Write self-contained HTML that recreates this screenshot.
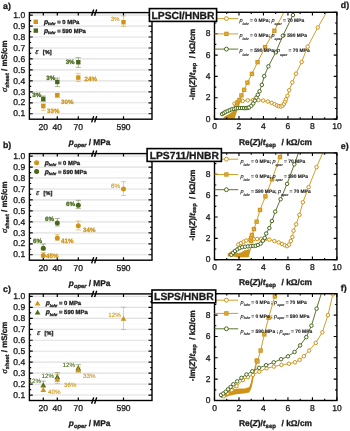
<!DOCTYPE html><html><head><meta charset="utf-8"><style>html,body{margin:0;padding:0;background:#fff;}svg{display:block;will-change:transform;}</style></head><body><svg width="350" height="431" viewBox="0 0 350 431" text-rendering="geometricPrecision" font-family='"Liberation Sans", sans-serif'>
<rect width="350" height="431" fill="#fff"/>
<line x1="33" x2="148" y1="20.58" y2="20.58" stroke="#efefef" stroke-width="0.7" stroke-dasharray="0.8 1.2"/>
<line x1="33" x2="148" y1="31.54" y2="31.54" stroke="#efefef" stroke-width="0.7" stroke-dasharray="0.8 1.2"/>
<line x1="33" x2="148" y1="42.50" y2="42.50" stroke="#efefef" stroke-width="0.7" stroke-dasharray="0.8 1.2"/>
<line x1="33" x2="148" y1="53.46" y2="53.46" stroke="#efefef" stroke-width="0.7" stroke-dasharray="0.8 1.2"/>
<line x1="33" x2="148" y1="64.42" y2="64.42" stroke="#efefef" stroke-width="0.7" stroke-dasharray="0.8 1.2"/>
<line x1="33" x2="148" y1="75.38" y2="75.38" stroke="#efefef" stroke-width="0.7" stroke-dasharray="0.8 1.2"/>
<line x1="33" x2="148" y1="86.34" y2="86.34" stroke="#efefef" stroke-width="0.7" stroke-dasharray="0.8 1.2"/>
<line x1="33" x2="148" y1="97.30" y2="97.30" stroke="#efefef" stroke-width="0.7" stroke-dasharray="0.8 1.2"/>
<line x1="33" x2="148" y1="108.26" y2="108.26" stroke="#efefef" stroke-width="0.7" stroke-dasharray="0.8 1.2"/>
<line x1="33" x2="147.5" y1="15.10" y2="15.10" stroke="#e0e0e0" stroke-width="1.15"/>
<line x1="33" x2="147.5" y1="26.06" y2="26.06" stroke="#e0e0e0" stroke-width="1.15"/>
<line x1="33" x2="147.5" y1="37.02" y2="37.02" stroke="#e0e0e0" stroke-width="1.15"/>
<line x1="33" x2="147.5" y1="47.98" y2="47.98" stroke="#e0e0e0" stroke-width="1.15"/>
<line x1="33" x2="147.5" y1="58.94" y2="58.94" stroke="#e0e0e0" stroke-width="1.15"/>
<line x1="33" x2="147.5" y1="69.90" y2="69.90" stroke="#e0e0e0" stroke-width="1.15"/>
<line x1="33" x2="147.5" y1="80.86" y2="80.86" stroke="#e0e0e0" stroke-width="1.15"/>
<line x1="33" x2="147.5" y1="91.82" y2="91.82" stroke="#e0e0e0" stroke-width="1.15"/>
<line x1="33" x2="147.5" y1="102.78" y2="102.78" stroke="#e0e0e0" stroke-width="1.15"/>
<line x1="33" x2="147.5" y1="113.74" y2="113.74" stroke="#e0e0e0" stroke-width="1.15"/>
<path d="M29.4,15.10 h3.4 M152.0,15.10 h-3.6 M29.4,20.58 h1.8 M152.0,20.58 h-1.8 M29.4,26.06 h3.4 M152.0,26.06 h-3.6 M29.4,31.54 h1.8 M152.0,31.54 h-1.8 M29.4,37.02 h3.4 M152.0,37.02 h-3.6 M29.4,42.50 h1.8 M152.0,42.50 h-1.8 M29.4,47.98 h3.4 M152.0,47.98 h-3.6 M29.4,53.46 h1.8 M152.0,53.46 h-1.8 M29.4,58.94 h3.4 M152.0,58.94 h-3.6 M29.4,64.42 h1.8 M152.0,64.42 h-1.8 M29.4,69.90 h3.4 M152.0,69.90 h-3.6 M29.4,75.38 h1.8 M152.0,75.38 h-1.8 M29.4,80.86 h3.4 M152.0,80.86 h-3.6 M29.4,86.34 h1.8 M152.0,86.34 h-1.8 M29.4,91.82 h3.4 M152.0,91.82 h-3.6 M29.4,97.30 h1.8 M152.0,97.30 h-1.8 M29.4,102.78 h3.4 M152.0,102.78 h-3.6 M29.4,108.26 h1.8 M152.0,108.26 h-1.8 M29.4,113.74 h3.4 M152.0,113.74 h-3.6 M43.3,119.2 v-3 M43.3,12.6 v3 M57.3,119.2 v-3 M57.3,12.6 v3 M78.3,119.2 v-3 M78.3,12.6 v3 M123.5,119.2 v-3 M123.5,12.6 v3" stroke="#000" stroke-width="1.2" fill="none"/>
<rect x="29.4" y="12.6" width="122.6" height="106.60000000000001" fill="none" stroke="#000" stroke-width="1.4"/>
<path d="M91.6,15.80 L93.7,9.50 M94.6,15.80 L96.7,9.50" stroke="#000" stroke-width="1.4"/>
<path d="M91.6,122.40 L93.7,116.10 M94.6,122.40 L96.7,116.10" stroke="#000" stroke-width="1.4"/>
<text x="25.2" y="17.80" text-anchor="end" font-size="8.5" fill="#1a1a1a" stroke="#1a1a1a" stroke-width="0.3">1.0</text>
<text x="25.2" y="28.76" text-anchor="end" font-size="8.5" fill="#1a1a1a" stroke="#1a1a1a" stroke-width="0.3">0.9</text>
<text x="25.2" y="39.72" text-anchor="end" font-size="8.5" fill="#1a1a1a" stroke="#1a1a1a" stroke-width="0.3">0.8</text>
<text x="25.2" y="50.68" text-anchor="end" font-size="8.5" fill="#1a1a1a" stroke="#1a1a1a" stroke-width="0.3">0.7</text>
<text x="25.2" y="61.64" text-anchor="end" font-size="8.5" fill="#1a1a1a" stroke="#1a1a1a" stroke-width="0.3">0.6</text>
<text x="25.2" y="72.60" text-anchor="end" font-size="8.5" fill="#1a1a1a" stroke="#1a1a1a" stroke-width="0.3">0.5</text>
<text x="25.2" y="83.56" text-anchor="end" font-size="8.5" fill="#1a1a1a" stroke="#1a1a1a" stroke-width="0.3">0.4</text>
<text x="25.2" y="94.52" text-anchor="end" font-size="8.5" fill="#1a1a1a" stroke="#1a1a1a" stroke-width="0.3">0.3</text>
<text x="25.2" y="105.48" text-anchor="end" font-size="8.5" fill="#1a1a1a" stroke="#1a1a1a" stroke-width="0.3">0.2</text>
<text x="25.2" y="116.44" text-anchor="end" font-size="8.5" fill="#1a1a1a" stroke="#1a1a1a" stroke-width="0.3">0.1</text>
<text x="43.3" y="129.60" text-anchor="middle" font-size="8.5" fill="#1a1a1a" stroke="#1a1a1a" stroke-width="0.3">20</text>
<text x="57.3" y="129.60" text-anchor="middle" font-size="8.5" fill="#1a1a1a" stroke="#1a1a1a" stroke-width="0.3">40</text>
<text x="78.3" y="129.60" text-anchor="middle" font-size="8.5" fill="#1a1a1a" stroke="#1a1a1a" stroke-width="0.3">70</text>
<text x="123.5" y="129.60" text-anchor="middle" font-size="8.5" fill="#1a1a1a" stroke="#1a1a1a" stroke-width="0.3">590</text>
<text x="68.8" y="144.60" font-size="8.3" font-weight="bold" fill="#1a1a1a" stroke="#1a1a1a" stroke-width="0.3"><tspan font-style="italic">p</tspan><tspan font-size="5.8" dy="2.2" font-style="italic">oper</tspan><tspan dy="-2.2"> / MPa</tspan></text>
<text transform="translate(7.2,66.20) rotate(-90)" text-anchor="middle" font-size="8" font-weight="bold" fill="#1a1a1a" stroke="#1a1a1a" stroke-width="0.3"><tspan font-style="italic" font-weight="normal" font-family="Liberation Serif" font-size="8.6">σ</tspan><tspan font-size="5.6" dy="1.9">sheet</tspan><tspan dy="-1.9"> / mS/cm</tspan></text>
<text x="3" y="8.70" font-size="8.8" font-weight="bold" fill="#1a1a1a" stroke="#1a1a1a" stroke-width="0.3">a)</text>
<rect x="33.60" y="19.60" width="4.4" height="4.4" fill="#CD9418"/>
<rect x="33.60" y="28.40" width="4.4" height="4.4" fill="#48671C"/>
<text x="43.90" y="23.90" font-size="5.9" font-weight="bold" fill="#1a1a1a" stroke="#1a1a1a" stroke-width="0.3"><tspan font-style="italic" font-size="6.8">p</tspan><tspan font-size="4" font-style="italic" dy="1.5">lohr</tspan><tspan dy="-1.5"> = 0 MPa</tspan></text>
<text x="43.90" y="32.70" font-size="5.9" font-weight="bold" fill="#1a1a1a" stroke="#1a1a1a" stroke-width="0.3"><tspan font-style="italic" font-size="6.8">p</tspan><tspan font-size="4" font-style="italic" dy="1.5">lohr</tspan><tspan dy="-1.5"> = 590 MPa</tspan></text>
<text x="35.20" y="54.00" font-size="8.4" font-style="italic" font-family="Liberation Serif" fill="#1a1a1a" stroke="#1a1a1a" stroke-width="0.2">ε</text>
<text x="42.80" y="53.90" font-size="5.6" font-weight="bold" fill="#1a1a1a" stroke="#1a1a1a" stroke-width="0.3">[%]</text>
<path d="M123.50,16.00 V26.40 M120.90,16.00 H126.10 M120.90,26.40 H126.10" stroke="#CD9418" stroke-width="0.75" fill="none" opacity="0.6"/>
<rect x="121.30" y="20.02" width="4.4" height="4.4" fill="#CD9418"/>
<text x="119.6" y="20.80" font-size="6.2" font-weight="normal" fill="#CD9418" stroke="#CD9418" stroke-width="0.12" text-anchor="end">3%</text>
<path d="M78.30,57.60 V67.40 M75.70,57.60 H80.90 M75.70,67.40 H80.90" stroke="#48671C" stroke-width="0.75" fill="none" opacity="0.6"/>
<rect x="76.10" y="60.03" width="4.4" height="4.4" fill="#48671C"/>
<text x="74.6" y="64.20" font-size="6.2" font-weight="bold" fill="#48671C" stroke="#48671C" stroke-width="0.3" text-anchor="end">3%</text>
<path d="M57.30,78.00 V86.60 M54.70,78.00 H59.90 M54.70,86.60 H59.90" stroke="#48671C" stroke-width="0.75" fill="none" opacity="0.6"/>
<rect x="55.10" y="79.76" width="4.4" height="4.4" fill="#48671C"/>
<text x="55.2" y="80.20" font-size="6.2" font-weight="bold" fill="#48671C" stroke="#48671C" stroke-width="0.3" text-anchor="end">3%</text>
<path d="M43.30,96.00 V101.40 M40.70,96.00 H45.90 M40.70,101.40 H45.90" stroke="#48671C" stroke-width="0.75" fill="none" opacity="0.6"/>
<rect x="41.10" y="96.74" width="4.4" height="4.4" fill="#48671C"/>
<text x="41.2" y="96.80" font-size="6.2" font-weight="bold" fill="#48671C" stroke="#48671C" stroke-width="0.3" text-anchor="end">3%</text>
<path d="M78.30,73.40 V81.60 M75.70,73.40 H80.90 M75.70,81.60 H80.90" stroke="#CD9418" stroke-width="0.75" fill="none" opacity="0.6"/>
<rect x="76.10" y="75.37" width="4.4" height="4.4" fill="#CD9418"/>
<text x="84.6" y="80.80" font-size="6.2" font-weight="bold" fill="#CD9418" stroke="#CD9418" stroke-width="0.3" text-anchor="start">24%</text>
<path d="M57.30,94.60 V97.60 M54.70,94.60 H59.90 M54.70,97.60 H59.90" stroke="#CD9418" stroke-width="0.75" fill="none" opacity="0.6"/>
<rect x="55.10" y="92.91" width="4.4" height="4.4" fill="#CD9418"/>
<text x="61.0" y="103.60" font-size="6.2" font-weight="bold" fill="#CD9418" stroke="#CD9418" stroke-width="0.3" text-anchor="start">30%</text>
<path d="M43.30,104.00 V110.30 M40.70,104.00 H45.90 M40.70,110.30 H45.90" stroke="#CD9418" stroke-width="0.75" fill="none" opacity="0.6"/>
<rect x="41.10" y="103.87" width="4.4" height="4.4" fill="#CD9418"/>
<text x="47.0" y="113.20" font-size="6.2" font-weight="bold" fill="#CD9418" stroke="#CD9418" stroke-width="0.3" text-anchor="start">33%</text>
<line x1="33" x2="148" y1="161.58" y2="161.58" stroke="#efefef" stroke-width="0.7" stroke-dasharray="0.8 1.2"/>
<line x1="33" x2="148" y1="172.54" y2="172.54" stroke="#efefef" stroke-width="0.7" stroke-dasharray="0.8 1.2"/>
<line x1="33" x2="148" y1="183.50" y2="183.50" stroke="#efefef" stroke-width="0.7" stroke-dasharray="0.8 1.2"/>
<line x1="33" x2="148" y1="194.46" y2="194.46" stroke="#efefef" stroke-width="0.7" stroke-dasharray="0.8 1.2"/>
<line x1="33" x2="148" y1="205.42" y2="205.42" stroke="#efefef" stroke-width="0.7" stroke-dasharray="0.8 1.2"/>
<line x1="33" x2="148" y1="216.38" y2="216.38" stroke="#efefef" stroke-width="0.7" stroke-dasharray="0.8 1.2"/>
<line x1="33" x2="148" y1="227.34" y2="227.34" stroke="#efefef" stroke-width="0.7" stroke-dasharray="0.8 1.2"/>
<line x1="33" x2="148" y1="238.30" y2="238.30" stroke="#efefef" stroke-width="0.7" stroke-dasharray="0.8 1.2"/>
<line x1="33" x2="148" y1="249.26" y2="249.26" stroke="#efefef" stroke-width="0.7" stroke-dasharray="0.8 1.2"/>
<line x1="33" x2="147.5" y1="156.10" y2="156.10" stroke="#e0e0e0" stroke-width="1.15"/>
<line x1="33" x2="147.5" y1="167.06" y2="167.06" stroke="#e0e0e0" stroke-width="1.15"/>
<line x1="33" x2="147.5" y1="178.02" y2="178.02" stroke="#e0e0e0" stroke-width="1.15"/>
<line x1="33" x2="147.5" y1="188.98" y2="188.98" stroke="#e0e0e0" stroke-width="1.15"/>
<line x1="33" x2="147.5" y1="199.94" y2="199.94" stroke="#e0e0e0" stroke-width="1.15"/>
<line x1="33" x2="147.5" y1="210.90" y2="210.90" stroke="#e0e0e0" stroke-width="1.15"/>
<line x1="33" x2="147.5" y1="221.86" y2="221.86" stroke="#e0e0e0" stroke-width="1.15"/>
<line x1="33" x2="147.5" y1="232.82" y2="232.82" stroke="#e0e0e0" stroke-width="1.15"/>
<line x1="33" x2="147.5" y1="243.78" y2="243.78" stroke="#e0e0e0" stroke-width="1.15"/>
<line x1="33" x2="147.5" y1="254.74" y2="254.74" stroke="#e0e0e0" stroke-width="1.15"/>
<path d="M29.4,156.10 h3.4 M152.0,156.10 h-3.6 M29.4,161.58 h1.8 M152.0,161.58 h-1.8 M29.4,167.06 h3.4 M152.0,167.06 h-3.6 M29.4,172.54 h1.8 M152.0,172.54 h-1.8 M29.4,178.02 h3.4 M152.0,178.02 h-3.6 M29.4,183.50 h1.8 M152.0,183.50 h-1.8 M29.4,188.98 h3.4 M152.0,188.98 h-3.6 M29.4,194.46 h1.8 M152.0,194.46 h-1.8 M29.4,199.94 h3.4 M152.0,199.94 h-3.6 M29.4,205.42 h1.8 M152.0,205.42 h-1.8 M29.4,210.90 h3.4 M152.0,210.90 h-3.6 M29.4,216.38 h1.8 M152.0,216.38 h-1.8 M29.4,221.86 h3.4 M152.0,221.86 h-3.6 M29.4,227.34 h1.8 M152.0,227.34 h-1.8 M29.4,232.82 h3.4 M152.0,232.82 h-3.6 M29.4,238.30 h1.8 M152.0,238.30 h-1.8 M29.4,243.78 h3.4 M152.0,243.78 h-3.6 M29.4,249.26 h1.8 M152.0,249.26 h-1.8 M29.4,254.74 h3.4 M152.0,254.74 h-3.6 M43.3,260.2 v-3 M43.3,153.6 v3 M57.3,260.2 v-3 M57.3,153.6 v3 M78.3,260.2 v-3 M78.3,153.6 v3 M123.5,260.2 v-3 M123.5,153.6 v3" stroke="#000" stroke-width="1.2" fill="none"/>
<rect x="29.4" y="153.6" width="122.6" height="106.6" fill="none" stroke="#000" stroke-width="1.4"/>
<path d="M91.6,156.80 L93.7,150.50 M94.6,156.80 L96.7,150.50" stroke="#000" stroke-width="1.4"/>
<path d="M91.6,263.40 L93.7,257.10 M94.6,263.40 L96.7,257.10" stroke="#000" stroke-width="1.4"/>
<text x="25.2" y="158.80" text-anchor="end" font-size="8.5" fill="#1a1a1a" stroke="#1a1a1a" stroke-width="0.3">1.0</text>
<text x="25.2" y="169.76" text-anchor="end" font-size="8.5" fill="#1a1a1a" stroke="#1a1a1a" stroke-width="0.3">0.9</text>
<text x="25.2" y="180.72" text-anchor="end" font-size="8.5" fill="#1a1a1a" stroke="#1a1a1a" stroke-width="0.3">0.8</text>
<text x="25.2" y="191.68" text-anchor="end" font-size="8.5" fill="#1a1a1a" stroke="#1a1a1a" stroke-width="0.3">0.7</text>
<text x="25.2" y="202.64" text-anchor="end" font-size="8.5" fill="#1a1a1a" stroke="#1a1a1a" stroke-width="0.3">0.6</text>
<text x="25.2" y="213.60" text-anchor="end" font-size="8.5" fill="#1a1a1a" stroke="#1a1a1a" stroke-width="0.3">0.5</text>
<text x="25.2" y="224.56" text-anchor="end" font-size="8.5" fill="#1a1a1a" stroke="#1a1a1a" stroke-width="0.3">0.4</text>
<text x="25.2" y="235.52" text-anchor="end" font-size="8.5" fill="#1a1a1a" stroke="#1a1a1a" stroke-width="0.3">0.3</text>
<text x="25.2" y="246.48" text-anchor="end" font-size="8.5" fill="#1a1a1a" stroke="#1a1a1a" stroke-width="0.3">0.2</text>
<text x="25.2" y="257.44" text-anchor="end" font-size="8.5" fill="#1a1a1a" stroke="#1a1a1a" stroke-width="0.3">0.1</text>
<text x="43.3" y="270.60" text-anchor="middle" font-size="8.5" fill="#1a1a1a" stroke="#1a1a1a" stroke-width="0.3">20</text>
<text x="57.3" y="270.60" text-anchor="middle" font-size="8.5" fill="#1a1a1a" stroke="#1a1a1a" stroke-width="0.3">40</text>
<text x="78.3" y="270.60" text-anchor="middle" font-size="8.5" fill="#1a1a1a" stroke="#1a1a1a" stroke-width="0.3">70</text>
<text x="123.5" y="270.60" text-anchor="middle" font-size="8.5" fill="#1a1a1a" stroke="#1a1a1a" stroke-width="0.3">590</text>
<text x="68.8" y="285.60" font-size="8.3" font-weight="bold" fill="#1a1a1a" stroke="#1a1a1a" stroke-width="0.3"><tspan font-style="italic">p</tspan><tspan font-size="5.8" dy="2.2" font-style="italic">oper</tspan><tspan dy="-2.2"> / MPa</tspan></text>
<text transform="translate(7.2,207.20) rotate(-90)" text-anchor="middle" font-size="8" font-weight="bold" fill="#1a1a1a" stroke="#1a1a1a" stroke-width="0.3"><tspan font-style="italic" font-weight="normal" font-family="Liberation Serif" font-size="8.6">σ</tspan><tspan font-size="5.6" dy="1.9">sheet</tspan><tspan dy="-1.9"> / mS/cm</tspan></text>
<text x="3" y="148.30" font-size="8.8" font-weight="bold" fill="#1a1a1a" stroke="#1a1a1a" stroke-width="0.3">b)</text>
<circle cx="36.60" cy="162.80" r="2.5" fill="#CD9418"/>
<circle cx="36.60" cy="171.60" r="2.5" fill="#48671C"/>
<text x="44.70" y="164.90" font-size="5.9" font-weight="bold" fill="#1a1a1a" stroke="#1a1a1a" stroke-width="0.3"><tspan font-style="italic" font-size="6.8">p</tspan><tspan font-size="4" font-style="italic" dy="1.5">lohr</tspan><tspan dy="-1.5"> = 0 MPa</tspan></text>
<text x="44.70" y="173.70" font-size="5.9" font-weight="bold" fill="#1a1a1a" stroke="#1a1a1a" stroke-width="0.3"><tspan font-style="italic" font-size="6.8">p</tspan><tspan font-size="4" font-style="italic" dy="1.5">lohr</tspan><tspan dy="-1.5"> = 590 MPa</tspan></text>
<text x="36.00" y="195.00" font-size="8.4" font-style="italic" font-family="Liberation Serif" fill="#1a1a1a" stroke="#1a1a1a" stroke-width="0.2">ε</text>
<text x="43.60" y="194.90" font-size="5.6" font-weight="bold" fill="#1a1a1a" stroke="#1a1a1a" stroke-width="0.3">[%]</text>
<path d="M123.50,181.60 V195.50 M120.90,181.60 H126.10 M120.90,195.50 H126.10" stroke="#CD9418" stroke-width="0.75" fill="none" opacity="0.6"/>
<circle cx="123.50" cy="188.98" r="2.5" fill="#CD9418"/>
<text x="119.9" y="188.10" font-size="6.2" font-weight="normal" fill="#CD9418" stroke="#CD9418" stroke-width="0.12" text-anchor="end">6%</text>
<path d="M78.30,200.40 V208.40 M75.70,200.40 H80.90 M75.70,208.40 H80.90" stroke="#48671C" stroke-width="0.75" fill="none" opacity="0.6"/>
<circle cx="78.30" cy="205.20" r="2.5" fill="#48671C"/>
<text x="75.0" y="205.80" font-size="6.2" font-weight="bold" fill="#48671C" stroke="#48671C" stroke-width="0.3" text-anchor="end">6%</text>
<path d="M57.30,218.50 V226.00 M54.70,218.50 H59.90 M54.70,226.00 H59.90" stroke="#48671C" stroke-width="0.75" fill="none" opacity="0.6"/>
<circle cx="57.30" cy="222.96" r="2.5" fill="#48671C"/>
<text x="54.0" y="220.60" font-size="6.2" font-weight="bold" fill="#48671C" stroke="#48671C" stroke-width="0.3" text-anchor="end">6%</text>
<path d="M43.30,244.00 V250.00 M40.70,244.00 H45.90 M40.70,250.00 H45.90" stroke="#48671C" stroke-width="0.75" fill="none" opacity="0.6"/>
<circle cx="43.30" cy="248.16" r="2.5" fill="#48671C"/>
<text x="42.0" y="242.60" font-size="6.2" font-weight="bold" fill="#48671C" stroke="#48671C" stroke-width="0.3" text-anchor="end">6%</text>
<path d="M78.30,221.00 V230.00 M75.70,221.00 H80.90 M75.70,230.00 H80.90" stroke="#CD9418" stroke-width="0.75" fill="none" opacity="0.6"/>
<circle cx="78.30" cy="225.70" r="2.5" fill="#CD9418"/>
<text x="83.0" y="232.20" font-size="6.2" font-weight="bold" fill="#CD9418" stroke="#CD9418" stroke-width="0.3" text-anchor="start">34%</text>
<path d="M57.30,234.40 V240.40 M54.70,234.40 H59.90 M54.70,240.40 H59.90" stroke="#CD9418" stroke-width="0.75" fill="none" opacity="0.6"/>
<circle cx="57.30" cy="237.97" r="2.5" fill="#CD9418"/>
<text x="61.0" y="242.60" font-size="6.2" font-weight="bold" fill="#CD9418" stroke="#CD9418" stroke-width="0.3" text-anchor="start">41%</text>
<path d="M43.30,252.50 V257.00 M40.70,252.50 H45.90 M40.70,257.00 H45.90" stroke="#CD9418" stroke-width="0.75" fill="none" opacity="0.6"/>
<circle cx="43.30" cy="255.40" r="2.5" fill="#CD9418"/>
<text x="46.0" y="257.80" font-size="6.2" font-weight="bold" fill="#CD9418" stroke="#CD9418" stroke-width="0.3" text-anchor="start">45%</text>
<line x1="33" x2="148" y1="301.88" y2="301.88" stroke="#efefef" stroke-width="0.7" stroke-dasharray="0.8 1.2"/>
<line x1="33" x2="148" y1="312.84" y2="312.84" stroke="#efefef" stroke-width="0.7" stroke-dasharray="0.8 1.2"/>
<line x1="33" x2="148" y1="323.80" y2="323.80" stroke="#efefef" stroke-width="0.7" stroke-dasharray="0.8 1.2"/>
<line x1="33" x2="148" y1="334.76" y2="334.76" stroke="#efefef" stroke-width="0.7" stroke-dasharray="0.8 1.2"/>
<line x1="33" x2="148" y1="345.72" y2="345.72" stroke="#efefef" stroke-width="0.7" stroke-dasharray="0.8 1.2"/>
<line x1="33" x2="148" y1="356.68" y2="356.68" stroke="#efefef" stroke-width="0.7" stroke-dasharray="0.8 1.2"/>
<line x1="33" x2="148" y1="367.64" y2="367.64" stroke="#efefef" stroke-width="0.7" stroke-dasharray="0.8 1.2"/>
<line x1="33" x2="148" y1="378.60" y2="378.60" stroke="#efefef" stroke-width="0.7" stroke-dasharray="0.8 1.2"/>
<line x1="33" x2="148" y1="389.56" y2="389.56" stroke="#efefef" stroke-width="0.7" stroke-dasharray="0.8 1.2"/>
<line x1="33" x2="147.5" y1="296.40" y2="296.40" stroke="#e0e0e0" stroke-width="1.15"/>
<line x1="33" x2="147.5" y1="307.36" y2="307.36" stroke="#e0e0e0" stroke-width="1.15"/>
<line x1="33" x2="147.5" y1="318.32" y2="318.32" stroke="#e0e0e0" stroke-width="1.15"/>
<line x1="33" x2="147.5" y1="329.28" y2="329.28" stroke="#e0e0e0" stroke-width="1.15"/>
<line x1="33" x2="147.5" y1="340.24" y2="340.24" stroke="#e0e0e0" stroke-width="1.15"/>
<line x1="33" x2="147.5" y1="351.20" y2="351.20" stroke="#e0e0e0" stroke-width="1.15"/>
<line x1="33" x2="147.5" y1="362.16" y2="362.16" stroke="#e0e0e0" stroke-width="1.15"/>
<line x1="33" x2="147.5" y1="373.12" y2="373.12" stroke="#e0e0e0" stroke-width="1.15"/>
<line x1="33" x2="147.5" y1="384.08" y2="384.08" stroke="#e0e0e0" stroke-width="1.15"/>
<line x1="33" x2="147.5" y1="395.04" y2="395.04" stroke="#e0e0e0" stroke-width="1.15"/>
<path d="M29.4,296.40 h3.4 M152.0,296.40 h-3.6 M29.4,301.88 h1.8 M152.0,301.88 h-1.8 M29.4,307.36 h3.4 M152.0,307.36 h-3.6 M29.4,312.84 h1.8 M152.0,312.84 h-1.8 M29.4,318.32 h3.4 M152.0,318.32 h-3.6 M29.4,323.80 h1.8 M152.0,323.80 h-1.8 M29.4,329.28 h3.4 M152.0,329.28 h-3.6 M29.4,334.76 h1.8 M152.0,334.76 h-1.8 M29.4,340.24 h3.4 M152.0,340.24 h-3.6 M29.4,345.72 h1.8 M152.0,345.72 h-1.8 M29.4,351.20 h3.4 M152.0,351.20 h-3.6 M29.4,356.68 h1.8 M152.0,356.68 h-1.8 M29.4,362.16 h3.4 M152.0,362.16 h-3.6 M29.4,367.64 h1.8 M152.0,367.64 h-1.8 M29.4,373.12 h3.4 M152.0,373.12 h-3.6 M29.4,378.60 h1.8 M152.0,378.60 h-1.8 M29.4,384.08 h3.4 M152.0,384.08 h-3.6 M29.4,389.56 h1.8 M152.0,389.56 h-1.8 M29.4,395.04 h3.4 M152.0,395.04 h-3.6 M43.3,400.5 v-3 M43.3,293.90000000000003 v3 M57.3,400.5 v-3 M57.3,293.90000000000003 v3 M78.3,400.5 v-3 M78.3,293.90000000000003 v3 M123.5,400.5 v-3 M123.5,293.90000000000003 v3" stroke="#000" stroke-width="1.2" fill="none"/>
<rect x="29.4" y="293.90000000000003" width="122.6" height="106.59999999999997" fill="none" stroke="#000" stroke-width="1.4"/>
<path d="M91.6,297.10 L93.7,290.80 M94.6,297.10 L96.7,290.80" stroke="#000" stroke-width="1.4"/>
<path d="M91.6,403.70 L93.7,397.40 M94.6,403.70 L96.7,397.40" stroke="#000" stroke-width="1.4"/>
<text x="25.2" y="299.10" text-anchor="end" font-size="8.5" fill="#1a1a1a" stroke="#1a1a1a" stroke-width="0.3">1.0</text>
<text x="25.2" y="310.06" text-anchor="end" font-size="8.5" fill="#1a1a1a" stroke="#1a1a1a" stroke-width="0.3">0.9</text>
<text x="25.2" y="321.02" text-anchor="end" font-size="8.5" fill="#1a1a1a" stroke="#1a1a1a" stroke-width="0.3">0.8</text>
<text x="25.2" y="331.98" text-anchor="end" font-size="8.5" fill="#1a1a1a" stroke="#1a1a1a" stroke-width="0.3">0.7</text>
<text x="25.2" y="342.94" text-anchor="end" font-size="8.5" fill="#1a1a1a" stroke="#1a1a1a" stroke-width="0.3">0.6</text>
<text x="25.2" y="353.90" text-anchor="end" font-size="8.5" fill="#1a1a1a" stroke="#1a1a1a" stroke-width="0.3">0.5</text>
<text x="25.2" y="364.86" text-anchor="end" font-size="8.5" fill="#1a1a1a" stroke="#1a1a1a" stroke-width="0.3">0.4</text>
<text x="25.2" y="375.82" text-anchor="end" font-size="8.5" fill="#1a1a1a" stroke="#1a1a1a" stroke-width="0.3">0.3</text>
<text x="25.2" y="386.78" text-anchor="end" font-size="8.5" fill="#1a1a1a" stroke="#1a1a1a" stroke-width="0.3">0.2</text>
<text x="25.2" y="397.74" text-anchor="end" font-size="8.5" fill="#1a1a1a" stroke="#1a1a1a" stroke-width="0.3">0.1</text>
<text x="43.3" y="410.90" text-anchor="middle" font-size="8.5" fill="#1a1a1a" stroke="#1a1a1a" stroke-width="0.3">20</text>
<text x="57.3" y="410.90" text-anchor="middle" font-size="8.5" fill="#1a1a1a" stroke="#1a1a1a" stroke-width="0.3">40</text>
<text x="78.3" y="410.90" text-anchor="middle" font-size="8.5" fill="#1a1a1a" stroke="#1a1a1a" stroke-width="0.3">70</text>
<text x="123.5" y="410.90" text-anchor="middle" font-size="8.5" fill="#1a1a1a" stroke="#1a1a1a" stroke-width="0.3">590</text>
<text x="68.8" y="425.90" font-size="8.3" font-weight="bold" fill="#1a1a1a" stroke="#1a1a1a" stroke-width="0.3"><tspan font-style="italic">p</tspan><tspan font-size="5.8" dy="2.2" font-style="italic">oper</tspan><tspan dy="-2.2"> / MPa</tspan></text>
<text transform="translate(7.2,347.50) rotate(-90)" text-anchor="middle" font-size="8" font-weight="bold" fill="#1a1a1a" stroke="#1a1a1a" stroke-width="0.3"><tspan font-style="italic" font-weight="normal" font-family="Liberation Serif" font-size="8.6">σ</tspan><tspan font-size="5.6" dy="1.9">sheet</tspan><tspan dy="-1.9"> / mS/cm</tspan></text>
<text x="3" y="291.80" font-size="8.8" font-weight="bold" fill="#1a1a1a" stroke="#1a1a1a" stroke-width="0.3">c)</text>
<path d="M34.80,305.60 L40.40,305.60 L37.60,300.60 Z" fill="#CD9418"/>
<path d="M34.80,314.40 L40.40,314.40 L37.60,309.40 Z" fill="#48671C"/>
<text x="45.70" y="305.20" font-size="5.9" font-weight="bold" fill="#1a1a1a" stroke="#1a1a1a" stroke-width="0.3"><tspan font-style="italic" font-size="6.8">p</tspan><tspan font-size="4" font-style="italic" dy="1.5">lohr</tspan><tspan dy="-1.5"> = 0 MPa</tspan></text>
<text x="45.70" y="314.00" font-size="5.9" font-weight="bold" fill="#1a1a1a" stroke="#1a1a1a" stroke-width="0.3"><tspan font-style="italic" font-size="6.8">p</tspan><tspan font-size="4" font-style="italic" dy="1.5">lohr</tspan><tspan dy="-1.5"> = 590 MPa</tspan></text>
<text x="37.00" y="335.30" font-size="8.4" font-style="italic" font-family="Liberation Serif" fill="#1a1a1a" stroke="#1a1a1a" stroke-width="0.2">ε</text>
<text x="44.60" y="335.20" font-size="5.6" font-weight="bold" fill="#1a1a1a" stroke="#1a1a1a" stroke-width="0.3">[%]</text>
<path d="M123.50,307.30 V329.60 M120.90,307.30 H126.10 M120.90,329.60 H126.10" stroke="#CD9418" stroke-width="0.75" fill="none" opacity="0.6"/>
<path d="M120.70,320.82 L126.30,320.82 L123.50,315.82 Z" fill="#CD9418"/>
<text x="120.7" y="316.80" font-size="6.2" font-weight="normal" fill="#CD9418" stroke="#CD9418" stroke-width="0.12" text-anchor="end">12%</text>
<path d="M78.30,364.60 V370.60 M75.70,364.60 H80.90 M75.70,370.60 H80.90" stroke="#48671C" stroke-width="0.75" fill="none" opacity="0.6"/>
<path d="M75.50,370.36 L81.10,370.36 L78.30,365.36 Z" fill="#48671C"/>
<text x="75.0" y="367.20" font-size="6.2" font-weight="normal" fill="#48671C" stroke="#48671C" stroke-width="0.12" text-anchor="end">12%</text>
<path d="M57.30,372.60 V379.60 M54.70,372.60 H59.90 M54.70,379.60 H59.90" stroke="#48671C" stroke-width="0.75" fill="none" opacity="0.6"/>
<path d="M54.50,378.91 L60.10,378.91 L57.30,373.91 Z" fill="#48671C"/>
<text x="54.0" y="377.80" font-size="6.2" font-weight="normal" fill="#48671C" stroke="#48671C" stroke-width="0.12" text-anchor="end">12%</text>
<path d="M43.30,381.10 V387.10 M40.70,381.10 H45.90 M40.70,387.10 H45.90" stroke="#48671C" stroke-width="0.75" fill="none" opacity="0.6"/>
<path d="M40.50,387.13 L46.10,387.13 L43.30,382.13 Z" fill="#48671C"/>
<text x="41.0" y="382.80" font-size="6.2" font-weight="normal" fill="#48671C" stroke="#48671C" stroke-width="0.12" text-anchor="end">12%</text>
<path d="M78.30,367.10 V372.10 M75.70,367.10 H80.90 M75.70,372.10 H80.90" stroke="#CD9418" stroke-width="0.75" fill="none" opacity="0.6"/>
<path d="M75.50,372.33 L81.10,372.33 L78.30,367.33 Z" fill="#CD9418"/>
<text x="83.0" y="378.40" font-size="6.2" font-weight="normal" fill="#CD9418" stroke="#CD9418" stroke-width="0.12" text-anchor="start">33%</text>
<path d="M57.30,374.60 V383.60 M54.70,374.60 H59.90 M54.70,383.60 H59.90" stroke="#CD9418" stroke-width="0.75" fill="none" opacity="0.6"/>
<path d="M54.50,381.87 L60.10,381.87 L57.30,376.87 Z" fill="#CD9418"/>
<text x="64.0" y="387.20" font-size="6.2" font-weight="normal" fill="#CD9418" stroke="#CD9418" stroke-width="0.12" text-anchor="start">36%</text>
<path d="M43.30,386.10 V391.60 M40.70,386.10 H45.90 M40.70,391.60 H45.90" stroke="#CD9418" stroke-width="0.75" fill="none" opacity="0.6"/>
<path d="M40.50,392.06 L46.10,392.06 L43.30,387.06 Z" fill="#CD9418"/>
<text x="48.0" y="394.40" font-size="6.2" font-weight="normal" fill="#CD9418" stroke="#CD9418" stroke-width="0.12" text-anchor="start">40%</text>
<clipPath id="clipd"><rect x="214.5" y="12.3" width="122.39999999999998" height="106.8"/></clipPath>
<g clip-path="url(#clipd)">
<path d="M234.57,103.63 L238.37,102.03 L242.65,100.96 L247.79,100.32 L253.18,99.89 L258.44,100.11 L263.09,100.53 L267.87,101.49 L271.66,102.88 L274.60,104.16 L276.92,105.44 L278.88,106.08 L280.84,106.51 L282.55,105.66 L283.90,103.95 L285.12,101.71 L285.98,99.36 L287.45,95.84 L289.16,90.29 L292.35,82.29 L296.02,73.65 L301.65,62.02 L307.65,46.65 L317.81,27.44 L328.33,9.20" stroke="#CD9418" stroke-width="0.9" fill="none"/>
<path d="M223.31,118.67 L223.80,116.97 L229.07,114.09 L233.10,111.20 L237.27,107.36 L237.76,108.96 L234.57,118.67 Z" fill="#CD9418"/>
<path d="M236.29,107.36 L236.90,104.70 L237.51,102.35 L239.35,100.00 L241.43,95.41 L244.12,89.86 L247.43,82.61 L251.95,73.86 L257.58,62.12 L265.05,47.18 L274.35,30.75 L285.49,9.20" stroke="#CD9418" stroke-width="0.9" fill="none"/>
<path d="M222.09,114.09 L223.80,113.02 L225.52,111.95 L227.60,111.10 L229.68,110.14 L231.76,109.28 L233.84,108.75 L235.80,108.32 L237.88,108.11 L239.96,108.00 L242.04,108.00 L244.12,108.11 L246.08,108.11 L247.79,107.90 L249.14,107.47 L251.34,105.76 L253.18,103.52 L254.89,100.64 L256.36,97.65 L257.83,94.77 L259.54,91.25 L261.87,84.85 L264.19,76.21 L268.36,66.39 L275.70,52.31 L282.92,35.66 L292.96,15.07 L294.67,9.20" stroke="#48671C" stroke-width="0.9" fill="none"/>
<circle cx="234.57" cy="103.63" r="1.75" fill="#fff" stroke="#CD9418" stroke-width="1.0"/>
<circle cx="238.37" cy="102.03" r="1.75" fill="#fff" stroke="#CD9418" stroke-width="1.0"/>
<circle cx="242.65" cy="100.96" r="1.75" fill="#fff" stroke="#CD9418" stroke-width="1.0"/>
<circle cx="247.79" cy="100.32" r="1.75" fill="#fff" stroke="#CD9418" stroke-width="1.0"/>
<circle cx="253.18" cy="99.89" r="1.75" fill="#fff" stroke="#CD9418" stroke-width="1.0"/>
<circle cx="258.44" cy="100.11" r="1.75" fill="#fff" stroke="#CD9418" stroke-width="1.0"/>
<circle cx="263.09" cy="100.53" r="1.75" fill="#fff" stroke="#CD9418" stroke-width="1.0"/>
<circle cx="267.87" cy="101.49" r="1.75" fill="#fff" stroke="#CD9418" stroke-width="1.0"/>
<circle cx="271.66" cy="102.88" r="1.75" fill="#fff" stroke="#CD9418" stroke-width="1.0"/>
<circle cx="274.60" cy="104.16" r="1.75" fill="#fff" stroke="#CD9418" stroke-width="1.0"/>
<circle cx="276.92" cy="105.44" r="1.75" fill="#fff" stroke="#CD9418" stroke-width="1.0"/>
<circle cx="278.88" cy="106.08" r="1.75" fill="#fff" stroke="#CD9418" stroke-width="1.0"/>
<circle cx="280.84" cy="106.51" r="1.75" fill="#fff" stroke="#CD9418" stroke-width="1.0"/>
<circle cx="282.55" cy="105.66" r="1.75" fill="#fff" stroke="#CD9418" stroke-width="1.0"/>
<circle cx="283.90" cy="103.95" r="1.75" fill="#fff" stroke="#CD9418" stroke-width="1.0"/>
<circle cx="285.12" cy="101.71" r="1.75" fill="#fff" stroke="#CD9418" stroke-width="1.0"/>
<circle cx="285.98" cy="99.36" r="1.75" fill="#fff" stroke="#CD9418" stroke-width="1.0"/>
<circle cx="287.45" cy="95.84" r="1.75" fill="#fff" stroke="#CD9418" stroke-width="1.0"/>
<circle cx="289.16" cy="90.29" r="1.75" fill="#fff" stroke="#CD9418" stroke-width="1.0"/>
<circle cx="292.35" cy="82.29" r="1.75" fill="#fff" stroke="#CD9418" stroke-width="1.0"/>
<circle cx="296.02" cy="73.65" r="1.75" fill="#fff" stroke="#CD9418" stroke-width="1.0"/>
<circle cx="301.65" cy="62.02" r="1.75" fill="#fff" stroke="#CD9418" stroke-width="1.0"/>
<circle cx="307.65" cy="46.65" r="1.75" fill="#fff" stroke="#CD9418" stroke-width="1.0"/>
<circle cx="317.81" cy="27.44" r="1.75" fill="#fff" stroke="#CD9418" stroke-width="1.0"/>
<rect x="234.09" y="105.16" width="4.4" height="4.4" fill="#CD9418"/><path d="M234.99,106.06 L237.59,108.66 M237.59,106.06 L234.99,108.66" stroke="#eecb85" stroke-width="0.55"/>
<rect x="234.70" y="102.50" width="4.4" height="4.4" fill="#CD9418"/><path d="M235.60,103.40 L238.20,106.00 M238.20,103.40 L235.60,106.00" stroke="#eecb85" stroke-width="0.55"/>
<rect x="235.31" y="100.15" width="4.4" height="4.4" fill="#CD9418"/><path d="M236.21,101.05 L238.81,103.65 M238.81,101.05 L236.21,103.65" stroke="#eecb85" stroke-width="0.55"/>
<rect x="237.15" y="97.80" width="4.4" height="4.4" fill="#CD9418"/><path d="M238.05,98.70 L240.65,101.30 M240.65,98.70 L238.05,101.30" stroke="#eecb85" stroke-width="0.55"/>
<rect x="239.23" y="93.21" width="4.4" height="4.4" fill="#CD9418"/><path d="M240.13,94.11 L242.73,96.71 M242.73,94.11 L240.13,96.71" stroke="#eecb85" stroke-width="0.55"/>
<rect x="241.92" y="87.66" width="4.4" height="4.4" fill="#CD9418"/><path d="M242.82,88.56 L245.42,91.16 M245.42,88.56 L242.82,91.16" stroke="#eecb85" stroke-width="0.55"/>
<rect x="245.23" y="80.41" width="4.4" height="4.4" fill="#CD9418"/><path d="M246.13,81.31 L248.73,83.91 M248.73,81.31 L246.13,83.91" stroke="#eecb85" stroke-width="0.55"/>
<rect x="249.75" y="71.66" width="4.4" height="4.4" fill="#CD9418"/><path d="M250.65,72.56 L253.25,75.16 M253.25,72.56 L250.65,75.16" stroke="#eecb85" stroke-width="0.55"/>
<rect x="255.38" y="59.92" width="4.4" height="4.4" fill="#CD9418"/><path d="M256.28,60.82 L258.88,63.42 M258.88,60.82 L256.28,63.42" stroke="#eecb85" stroke-width="0.55"/>
<rect x="262.85" y="44.98" width="4.4" height="4.4" fill="#CD9418"/><path d="M263.75,45.88 L266.35,48.48 M266.35,45.88 L263.75,48.48" stroke="#eecb85" stroke-width="0.55"/>
<rect x="272.15" y="28.55" width="4.4" height="4.4" fill="#CD9418"/><path d="M273.05,29.45 L275.65,32.05 M275.65,29.45 L273.05,32.05" stroke="#eecb85" stroke-width="0.55"/>
<circle cx="222.09" cy="114.09" r="1.75" fill="#fff" stroke="#48671C" stroke-width="1.0"/>
<circle cx="223.80" cy="113.02" r="1.75" fill="#fff" stroke="#48671C" stroke-width="1.0"/>
<circle cx="225.52" cy="111.95" r="1.75" fill="#fff" stroke="#48671C" stroke-width="1.0"/>
<circle cx="227.60" cy="111.10" r="1.75" fill="#fff" stroke="#48671C" stroke-width="1.0"/>
<circle cx="229.68" cy="110.14" r="1.75" fill="#fff" stroke="#48671C" stroke-width="1.0"/>
<circle cx="231.76" cy="109.28" r="1.75" fill="#fff" stroke="#48671C" stroke-width="1.0"/>
<circle cx="233.84" cy="108.75" r="1.75" fill="#fff" stroke="#48671C" stroke-width="1.0"/>
<circle cx="235.80" cy="108.32" r="1.75" fill="#fff" stroke="#48671C" stroke-width="1.0"/>
<circle cx="237.88" cy="108.11" r="1.75" fill="#fff" stroke="#48671C" stroke-width="1.0"/>
<circle cx="239.96" cy="108.00" r="1.75" fill="#fff" stroke="#48671C" stroke-width="1.0"/>
<circle cx="242.04" cy="108.00" r="1.75" fill="#fff" stroke="#48671C" stroke-width="1.0"/>
<circle cx="244.12" cy="108.11" r="1.75" fill="#fff" stroke="#48671C" stroke-width="1.0"/>
<circle cx="246.08" cy="108.11" r="1.75" fill="#fff" stroke="#48671C" stroke-width="1.0"/>
<circle cx="247.79" cy="107.90" r="1.75" fill="#fff" stroke="#48671C" stroke-width="1.0"/>
<circle cx="249.14" cy="107.47" r="1.75" fill="#fff" stroke="#48671C" stroke-width="1.0"/>
<circle cx="251.34" cy="105.76" r="1.75" fill="#fff" stroke="#48671C" stroke-width="1.0"/>
<circle cx="253.18" cy="103.52" r="1.75" fill="#fff" stroke="#48671C" stroke-width="1.0"/>
<circle cx="254.89" cy="100.64" r="1.75" fill="#fff" stroke="#48671C" stroke-width="1.0"/>
<circle cx="256.36" cy="97.65" r="1.75" fill="#fff" stroke="#48671C" stroke-width="1.0"/>
<circle cx="257.83" cy="94.77" r="1.75" fill="#fff" stroke="#48671C" stroke-width="1.0"/>
<circle cx="259.54" cy="91.25" r="1.75" fill="#fff" stroke="#48671C" stroke-width="1.0"/>
<circle cx="261.87" cy="84.85" r="1.75" fill="#fff" stroke="#48671C" stroke-width="1.0"/>
<circle cx="264.19" cy="76.21" r="1.75" fill="#fff" stroke="#48671C" stroke-width="1.0"/>
<circle cx="268.36" cy="66.39" r="1.75" fill="#fff" stroke="#48671C" stroke-width="1.0"/>
<circle cx="275.70" cy="52.31" r="1.75" fill="#fff" stroke="#48671C" stroke-width="1.0"/>
<circle cx="282.92" cy="35.66" r="1.75" fill="#fff" stroke="#48671C" stroke-width="1.0"/>
<circle cx="292.96" cy="15.07" r="1.75" fill="#fff" stroke="#48671C" stroke-width="1.0"/>
</g>
<path d="M214.50,119.1 v-3.2 M214.50,12.3 v3.2 M214.5,119.10 h3.2 M336.9,119.10 h-3.2 M226.74,119.1 v-1.8 M226.74,12.3 v1.8 M214.5,108.43 h1.8 M336.9,108.43 h-1.8 M238.98,119.1 v-3.2 M238.98,12.3 v3.2 M214.5,97.76 h3.2 M336.9,97.76 h-3.2 M251.22,119.1 v-1.8 M251.22,12.3 v1.8 M214.5,87.09 h1.8 M336.9,87.09 h-1.8 M263.46,119.1 v-3.2 M263.46,12.3 v3.2 M214.5,76.42 h3.2 M336.9,76.42 h-3.2 M275.70,119.1 v-1.8 M275.70,12.3 v1.8 M214.5,65.75 h1.8 M336.9,65.75 h-1.8 M287.94,119.1 v-3.2 M287.94,12.3 v3.2 M214.5,55.08 h3.2 M336.9,55.08 h-3.2 M300.18,119.1 v-1.8 M300.18,12.3 v1.8 M214.5,44.41 h1.8 M336.9,44.41 h-1.8 M312.42,119.1 v-3.2 M312.42,12.3 v3.2 M214.5,33.74 h3.2 M336.9,33.74 h-3.2 M324.66,119.1 v-1.8 M324.66,12.3 v1.8 M214.5,23.07 h1.8 M336.9,23.07 h-1.8 M336.90,119.1 v-3.2 M336.90,12.3 v3.2 M214.5,12.40 h3.2 M336.9,12.40 h-3.2" stroke="#000" stroke-width="1.1" fill="none"/>
<rect x="214.5" y="12.3" width="122.39999999999998" height="106.8" fill="none" stroke="#000" stroke-width="1.4"/>
<text x="214.50" y="129.40" text-anchor="middle" font-size="8.5" fill="#1a1a1a" stroke="#1a1a1a" stroke-width="0.3">0</text>
<text x="238.98" y="129.40" text-anchor="middle" font-size="8.5" fill="#1a1a1a" stroke="#1a1a1a" stroke-width="0.3">2</text>
<text x="263.46" y="129.40" text-anchor="middle" font-size="8.5" fill="#1a1a1a" stroke="#1a1a1a" stroke-width="0.3">4</text>
<text x="287.94" y="129.40" text-anchor="middle" font-size="8.5" fill="#1a1a1a" stroke="#1a1a1a" stroke-width="0.3">6</text>
<text x="312.42" y="129.40" text-anchor="middle" font-size="8.5" fill="#1a1a1a" stroke="#1a1a1a" stroke-width="0.3">8</text>
<text x="336.90" y="129.40" text-anchor="middle" font-size="8.5" fill="#1a1a1a" stroke="#1a1a1a" stroke-width="0.3">10</text>
<text x="210.50" y="121.80" text-anchor="end" font-size="8.5" fill="#1a1a1a" stroke="#1a1a1a" stroke-width="0.3">0</text>
<text x="210.50" y="100.46" text-anchor="end" font-size="8.5" fill="#1a1a1a" stroke="#1a1a1a" stroke-width="0.3">2</text>
<text x="210.50" y="79.12" text-anchor="end" font-size="8.5" fill="#1a1a1a" stroke="#1a1a1a" stroke-width="0.3">4</text>
<text x="210.50" y="57.78" text-anchor="end" font-size="8.5" fill="#1a1a1a" stroke="#1a1a1a" stroke-width="0.3">6</text>
<text x="210.50" y="36.44" text-anchor="end" font-size="8.5" fill="#1a1a1a" stroke="#1a1a1a" stroke-width="0.3">8</text>
<text x="239.0" y="144.60" font-size="8.4" font-weight="bold" fill="#1a1a1a" stroke="#1a1a1a" stroke-width="0.3">Re(<tspan font-style="italic">Z</tspan>)/<tspan font-style="italic">t</tspan><tspan font-size="6" dy="2.2">sep</tspan><tspan dy="-2.2" dx="1" xml:space="preserve">  / kΩ/cm</tspan></text>
<text transform="translate(194.6,64.40) rotate(-90)" text-anchor="middle" font-size="8.1" font-weight="bold" fill="#1a1a1a" stroke="#1a1a1a" stroke-width="0.3">-Im(<tspan font-style="italic">Z</tspan>)/<tspan font-style="italic">t</tspan><tspan font-size="5.6" dy="1.7">sep</tspan><tspan dy="-1.7" xml:space="preserve">  / kΩ/cm</tspan></text>
<text x="340.8" y="8.30" font-size="8.8" font-weight="bold" fill="#1a1a1a" stroke="#1a1a1a" stroke-width="0.3">d)</text>
<line x1="214.5" x2="238.2" y1="18.60" y2="18.60" stroke="#CD9418" stroke-width="0.9"/>
<circle cx="226.40" cy="18.60" r="1.95" fill="#fff" stroke="#CD9418" stroke-width="1.0"/>
<text x="239.4" y="21.90" font-size="4.9" font-weight="bold" fill="#222" stroke="#222" stroke-width="0.12" xml:space="preserve"><tspan font-style="italic" font-weight="normal" font-size="5.6">p</tspan><tspan font-size="3.3" font-style="italic" dy="3.2">lohr</tspan><tspan dy="-3.2"> = 0 MPa; </tspan><tspan font-style="italic" font-weight="normal" font-size="5.6">p</tspan><tspan font-size="3.3" font-style="italic" dy="3.2">oper</tspan><tspan dy="-3.2"> = 70 MPa</tspan></text>
<line x1="214.5" x2="238.2" y1="33.90" y2="33.90" stroke="#CD9418" stroke-width="0.9"/>
<rect x="224.20" y="31.70" width="4.4" height="4.4" fill="#CD9418"/><path d="M225.10,32.60 L227.70,35.20 M227.70,32.60 L225.10,35.20" stroke="#eecb85" stroke-width="0.55"/>
<text x="239.4" y="37.20" font-size="4.9" font-weight="bold" fill="#222" stroke="#222" stroke-width="0.12" xml:space="preserve"><tspan font-style="italic" font-weight="normal" font-size="5.6">p</tspan><tspan font-size="3.3" font-style="italic" dy="3.2">lohr</tspan><tspan dy="-3.2"> = 0 MPa; </tspan><tspan font-style="italic" font-weight="normal" font-size="5.6">p</tspan><tspan font-size="3.3" font-style="italic" dy="3.2">oper</tspan><tspan dy="-3.2"> = 590 MPa</tspan></text>
<line x1="214.5" x2="238.2" y1="49.10" y2="49.10" stroke="#48671C" stroke-width="0.9"/>
<circle cx="226.40" cy="49.10" r="1.95" fill="#fff" stroke="#48671C" stroke-width="1.0"/>
<text x="239.4" y="52.40" font-size="4.9" font-weight="bold" fill="#222" stroke="#222" stroke-width="0.12" xml:space="preserve"><tspan font-style="italic" font-weight="normal" font-size="5.6">p</tspan><tspan font-size="3.3" font-style="italic" dy="3.2">lohr</tspan><tspan dy="-3.2"> = 590 MPa; </tspan><tspan font-style="italic" font-weight="normal" font-size="5.6">p</tspan><tspan font-size="3.3" font-style="italic" dy="3.2">oper</tspan><tspan dy="-3.2"> = 70 MPa</tspan></text>
<rect x="149.4" y="8.60" width="67.19999999999999" height="12.8" fill="#fff" stroke="#000" stroke-width="1.6"/>
<text x="183.00" y="18.90" text-anchor="middle" font-size="10.3" font-weight="bold" fill="#1a1a1a" stroke="#1a1a1a" stroke-width="0.3">LPSCl/HNBR</text>
<clipPath id="clipe"><rect x="214.5" y="152.9" width="122.39999999999998" height="106.79999999999998"/></clipPath>
<g clip-path="url(#clipe)">
<path d="M238.25,244.55 L241.06,243.16 L243.63,241.67 L246.32,240.60 L249.75,239.64 L253.67,239.11 L257.10,239.00 L261.01,238.89 L265.30,239.11 L269.34,239.64 L274.35,241.03 L278.64,242.41 L282.06,243.91 L284.76,245.30 L287.08,246.15 L289.04,244.66 L290.76,241.03 L292.35,237.08 L293.57,230.68 L296.14,224.28 L299.45,214.89 L302.87,202.30 L308.63,187.14 L316.58,167.08 L324.05,149.80" stroke="#CD9418" stroke-width="0.9" fill="none"/>
<path d="M227.72,256.50 L227.72,253.51 L231.02,251.48 L234.94,252.02 L238.00,252.98 L241.06,252.55 L244.00,250.52 L249.63,249.24 L250.61,245.83 L251.46,242.63 L250.61,250.10 L248.65,257.25 L238.00,257.57 L232.25,256.29 Z" fill="#CD9418"/>
<path d="M250.98,241.03 L251.22,238.15 L251.95,234.95 L253.91,229.08 L256.61,221.71 L260.03,209.98 L265.42,196.43 L272.03,179.35 L279.98,157.05 L283.04,149.80" stroke="#CD9418" stroke-width="0.9" fill="none"/>
<path d="M231.39,254.79 L233.10,252.76 L235.06,250.95 L237.39,249.35 L239.59,248.07 L242.28,247.11 L245.10,246.68 L247.92,246.36 L250.73,246.15 L253.30,245.94 L255.75,245.72 L257.95,244.98 L260.64,243.59 L262.85,240.71 L264.68,237.93 L266.15,233.56 L269.34,228.12 L271.91,220.97 L275.21,211.69 L280.60,199.20 L287.08,183.84 L294.30,164.42 L299.57,149.80" stroke="#48671C" stroke-width="0.9" fill="none"/>
<circle cx="238.25" cy="244.55" r="1.75" fill="#fff" stroke="#CD9418" stroke-width="1.0"/>
<circle cx="241.06" cy="243.16" r="1.75" fill="#fff" stroke="#CD9418" stroke-width="1.0"/>
<circle cx="243.63" cy="241.67" r="1.75" fill="#fff" stroke="#CD9418" stroke-width="1.0"/>
<circle cx="246.32" cy="240.60" r="1.75" fill="#fff" stroke="#CD9418" stroke-width="1.0"/>
<circle cx="249.75" cy="239.64" r="1.75" fill="#fff" stroke="#CD9418" stroke-width="1.0"/>
<circle cx="253.67" cy="239.11" r="1.75" fill="#fff" stroke="#CD9418" stroke-width="1.0"/>
<circle cx="257.10" cy="239.00" r="1.75" fill="#fff" stroke="#CD9418" stroke-width="1.0"/>
<circle cx="261.01" cy="238.89" r="1.75" fill="#fff" stroke="#CD9418" stroke-width="1.0"/>
<circle cx="265.30" cy="239.11" r="1.75" fill="#fff" stroke="#CD9418" stroke-width="1.0"/>
<circle cx="269.34" cy="239.64" r="1.75" fill="#fff" stroke="#CD9418" stroke-width="1.0"/>
<circle cx="274.35" cy="241.03" r="1.75" fill="#fff" stroke="#CD9418" stroke-width="1.0"/>
<circle cx="278.64" cy="242.41" r="1.75" fill="#fff" stroke="#CD9418" stroke-width="1.0"/>
<circle cx="282.06" cy="243.91" r="1.75" fill="#fff" stroke="#CD9418" stroke-width="1.0"/>
<circle cx="284.76" cy="245.30" r="1.75" fill="#fff" stroke="#CD9418" stroke-width="1.0"/>
<circle cx="287.08" cy="246.15" r="1.75" fill="#fff" stroke="#CD9418" stroke-width="1.0"/>
<circle cx="289.04" cy="244.66" r="1.75" fill="#fff" stroke="#CD9418" stroke-width="1.0"/>
<circle cx="290.76" cy="241.03" r="1.75" fill="#fff" stroke="#CD9418" stroke-width="1.0"/>
<circle cx="292.35" cy="237.08" r="1.75" fill="#fff" stroke="#CD9418" stroke-width="1.0"/>
<circle cx="293.57" cy="230.68" r="1.75" fill="#fff" stroke="#CD9418" stroke-width="1.0"/>
<circle cx="296.14" cy="224.28" r="1.75" fill="#fff" stroke="#CD9418" stroke-width="1.0"/>
<circle cx="299.45" cy="214.89" r="1.75" fill="#fff" stroke="#CD9418" stroke-width="1.0"/>
<circle cx="302.87" cy="202.30" r="1.75" fill="#fff" stroke="#CD9418" stroke-width="1.0"/>
<circle cx="308.63" cy="187.14" r="1.75" fill="#fff" stroke="#CD9418" stroke-width="1.0"/>
<circle cx="316.58" cy="167.08" r="1.75" fill="#fff" stroke="#CD9418" stroke-width="1.0"/>
<rect x="248.78" y="238.83" width="4.4" height="4.4" fill="#CD9418"/><path d="M249.68,239.73 L252.28,242.33 M252.28,239.73 L249.68,242.33" stroke="#eecb85" stroke-width="0.55"/>
<rect x="249.02" y="235.95" width="4.4" height="4.4" fill="#CD9418"/><path d="M249.92,236.85 L252.52,239.45 M252.52,236.85 L249.92,239.45" stroke="#eecb85" stroke-width="0.55"/>
<rect x="249.75" y="232.75" width="4.4" height="4.4" fill="#CD9418"/><path d="M250.65,233.65 L253.25,236.25 M253.25,233.65 L250.65,236.25" stroke="#eecb85" stroke-width="0.55"/>
<rect x="251.71" y="226.88" width="4.4" height="4.4" fill="#CD9418"/><path d="M252.61,227.78 L255.21,230.38 M255.21,227.78 L252.61,230.38" stroke="#eecb85" stroke-width="0.55"/>
<rect x="254.41" y="219.51" width="4.4" height="4.4" fill="#CD9418"/><path d="M255.31,220.41 L257.91,223.01 M257.91,220.41 L255.31,223.01" stroke="#eecb85" stroke-width="0.55"/>
<rect x="257.83" y="207.78" width="4.4" height="4.4" fill="#CD9418"/><path d="M258.73,208.68 L261.33,211.28 M261.33,208.68 L258.73,211.28" stroke="#eecb85" stroke-width="0.55"/>
<rect x="263.22" y="194.23" width="4.4" height="4.4" fill="#CD9418"/><path d="M264.12,195.13 L266.72,197.73 M266.72,195.13 L264.12,197.73" stroke="#eecb85" stroke-width="0.55"/>
<rect x="269.83" y="177.15" width="4.4" height="4.4" fill="#CD9418"/><path d="M270.73,178.05 L273.33,180.65 M273.33,178.05 L270.73,180.65" stroke="#eecb85" stroke-width="0.55"/>
<rect x="277.78" y="154.85" width="4.4" height="4.4" fill="#CD9418"/><path d="M278.68,155.75 L281.28,158.35 M281.28,155.75 L278.68,158.35" stroke="#eecb85" stroke-width="0.55"/>
<circle cx="231.39" cy="254.79" r="1.75" fill="#fff" stroke="#48671C" stroke-width="1.0"/>
<circle cx="233.10" cy="252.76" r="1.75" fill="#fff" stroke="#48671C" stroke-width="1.0"/>
<circle cx="235.06" cy="250.95" r="1.75" fill="#fff" stroke="#48671C" stroke-width="1.0"/>
<circle cx="237.39" cy="249.35" r="1.75" fill="#fff" stroke="#48671C" stroke-width="1.0"/>
<circle cx="239.59" cy="248.07" r="1.75" fill="#fff" stroke="#48671C" stroke-width="1.0"/>
<circle cx="242.28" cy="247.11" r="1.75" fill="#fff" stroke="#48671C" stroke-width="1.0"/>
<circle cx="245.10" cy="246.68" r="1.75" fill="#fff" stroke="#48671C" stroke-width="1.0"/>
<circle cx="247.92" cy="246.36" r="1.75" fill="#fff" stroke="#48671C" stroke-width="1.0"/>
<circle cx="250.73" cy="246.15" r="1.75" fill="#fff" stroke="#48671C" stroke-width="1.0"/>
<circle cx="253.30" cy="245.94" r="1.75" fill="#fff" stroke="#48671C" stroke-width="1.0"/>
<circle cx="255.75" cy="245.72" r="1.75" fill="#fff" stroke="#48671C" stroke-width="1.0"/>
<circle cx="257.95" cy="244.98" r="1.75" fill="#fff" stroke="#48671C" stroke-width="1.0"/>
<circle cx="260.64" cy="243.59" r="1.75" fill="#fff" stroke="#48671C" stroke-width="1.0"/>
<circle cx="262.85" cy="240.71" r="1.75" fill="#fff" stroke="#48671C" stroke-width="1.0"/>
<circle cx="264.68" cy="237.93" r="1.75" fill="#fff" stroke="#48671C" stroke-width="1.0"/>
<circle cx="266.15" cy="233.56" r="1.75" fill="#fff" stroke="#48671C" stroke-width="1.0"/>
<circle cx="269.34" cy="228.12" r="1.75" fill="#fff" stroke="#48671C" stroke-width="1.0"/>
<circle cx="271.91" cy="220.97" r="1.75" fill="#fff" stroke="#48671C" stroke-width="1.0"/>
<circle cx="275.21" cy="211.69" r="1.75" fill="#fff" stroke="#48671C" stroke-width="1.0"/>
<circle cx="280.60" cy="199.20" r="1.75" fill="#fff" stroke="#48671C" stroke-width="1.0"/>
<circle cx="287.08" cy="183.84" r="1.75" fill="#fff" stroke="#48671C" stroke-width="1.0"/>
<circle cx="294.30" cy="164.42" r="1.75" fill="#fff" stroke="#48671C" stroke-width="1.0"/>
</g>
<path d="M214.50,259.7 v-3.2 M214.50,152.9 v3.2 M214.5,259.70 h3.2 M336.9,259.70 h-3.2 M226.74,259.7 v-1.8 M226.74,152.9 v1.8 M214.5,249.03 h1.8 M336.9,249.03 h-1.8 M238.98,259.7 v-3.2 M238.98,152.9 v3.2 M214.5,238.36 h3.2 M336.9,238.36 h-3.2 M251.22,259.7 v-1.8 M251.22,152.9 v1.8 M214.5,227.69 h1.8 M336.9,227.69 h-1.8 M263.46,259.7 v-3.2 M263.46,152.9 v3.2 M214.5,217.02 h3.2 M336.9,217.02 h-3.2 M275.70,259.7 v-1.8 M275.70,152.9 v1.8 M214.5,206.35 h1.8 M336.9,206.35 h-1.8 M287.94,259.7 v-3.2 M287.94,152.9 v3.2 M214.5,195.68 h3.2 M336.9,195.68 h-3.2 M300.18,259.7 v-1.8 M300.18,152.9 v1.8 M214.5,185.01 h1.8 M336.9,185.01 h-1.8 M312.42,259.7 v-3.2 M312.42,152.9 v3.2 M214.5,174.34 h3.2 M336.9,174.34 h-3.2 M324.66,259.7 v-1.8 M324.66,152.9 v1.8 M214.5,163.67 h1.8 M336.9,163.67 h-1.8 M336.90,259.7 v-3.2 M336.90,152.9 v3.2 M214.5,153.00 h3.2 M336.9,153.00 h-3.2" stroke="#000" stroke-width="1.1" fill="none"/>
<rect x="214.5" y="152.9" width="122.39999999999998" height="106.79999999999998" fill="none" stroke="#000" stroke-width="1.4"/>
<text x="214.50" y="270.00" text-anchor="middle" font-size="8.5" fill="#1a1a1a" stroke="#1a1a1a" stroke-width="0.3">0</text>
<text x="238.98" y="270.00" text-anchor="middle" font-size="8.5" fill="#1a1a1a" stroke="#1a1a1a" stroke-width="0.3">2</text>
<text x="263.46" y="270.00" text-anchor="middle" font-size="8.5" fill="#1a1a1a" stroke="#1a1a1a" stroke-width="0.3">4</text>
<text x="287.94" y="270.00" text-anchor="middle" font-size="8.5" fill="#1a1a1a" stroke="#1a1a1a" stroke-width="0.3">6</text>
<text x="312.42" y="270.00" text-anchor="middle" font-size="8.5" fill="#1a1a1a" stroke="#1a1a1a" stroke-width="0.3">8</text>
<text x="336.90" y="270.00" text-anchor="middle" font-size="8.5" fill="#1a1a1a" stroke="#1a1a1a" stroke-width="0.3">10</text>
<text x="210.50" y="262.40" text-anchor="end" font-size="8.5" fill="#1a1a1a" stroke="#1a1a1a" stroke-width="0.3">0</text>
<text x="210.50" y="241.06" text-anchor="end" font-size="8.5" fill="#1a1a1a" stroke="#1a1a1a" stroke-width="0.3">2</text>
<text x="210.50" y="219.72" text-anchor="end" font-size="8.5" fill="#1a1a1a" stroke="#1a1a1a" stroke-width="0.3">4</text>
<text x="210.50" y="198.38" text-anchor="end" font-size="8.5" fill="#1a1a1a" stroke="#1a1a1a" stroke-width="0.3">6</text>
<text x="210.50" y="177.04" text-anchor="end" font-size="8.5" fill="#1a1a1a" stroke="#1a1a1a" stroke-width="0.3">8</text>
<text x="239.0" y="285.20" font-size="8.4" font-weight="bold" fill="#1a1a1a" stroke="#1a1a1a" stroke-width="0.3">Re(<tspan font-style="italic">Z</tspan>)/<tspan font-style="italic">t</tspan><tspan font-size="6" dy="2.2">sep</tspan><tspan dy="-2.2" dx="1" xml:space="preserve">  / kΩ/cm</tspan></text>
<text transform="translate(194.6,205.00) rotate(-90)" text-anchor="middle" font-size="8.1" font-weight="bold" fill="#1a1a1a" stroke="#1a1a1a" stroke-width="0.3">-Im(<tspan font-style="italic">Z</tspan>)/<tspan font-style="italic">t</tspan><tspan font-size="5.6" dy="1.7">sep</tspan><tspan dy="-1.7" xml:space="preserve">  / kΩ/cm</tspan></text>
<text x="340.8" y="148.90" font-size="8.8" font-weight="bold" fill="#1a1a1a" stroke="#1a1a1a" stroke-width="0.3">e)</text>
<line x1="214.5" x2="238.2" y1="159.20" y2="159.20" stroke="#CD9418" stroke-width="0.9"/>
<circle cx="226.40" cy="159.20" r="1.95" fill="#fff" stroke="#CD9418" stroke-width="1.0"/>
<text x="240.4" y="162.50" font-size="4.9" font-weight="bold" fill="#222" stroke="#222" stroke-width="0.12" xml:space="preserve"><tspan font-style="italic" font-weight="normal" font-size="5.6">p</tspan><tspan font-size="3.3" font-style="italic" dy="3.2">lohr</tspan><tspan dy="-3.2"> = 0 MPa; </tspan><tspan font-style="italic" font-weight="normal" font-size="5.6">p</tspan><tspan font-size="3.3" font-style="italic" dy="3.2">oper</tspan><tspan dy="-3.2"> = 70 MPa</tspan></text>
<line x1="214.5" x2="238.2" y1="174.50" y2="174.50" stroke="#CD9418" stroke-width="0.9"/>
<rect x="224.20" y="172.30" width="4.4" height="4.4" fill="#CD9418"/><path d="M225.10,173.20 L227.70,175.80 M227.70,173.20 L225.10,175.80" stroke="#eecb85" stroke-width="0.55"/>
<text x="240.4" y="177.80" font-size="4.9" font-weight="bold" fill="#222" stroke="#222" stroke-width="0.12" xml:space="preserve"><tspan font-style="italic" font-weight="normal" font-size="5.6">p</tspan><tspan font-size="3.3" font-style="italic" dy="3.2">lohr</tspan><tspan dy="-3.2"> = 0 MPa; </tspan><tspan font-style="italic" font-weight="normal" font-size="5.6">p</tspan><tspan font-size="3.3" font-style="italic" dy="3.2">oper</tspan><tspan dy="-3.2"> = 590 MPa</tspan></text>
<line x1="214.5" x2="238.2" y1="189.70" y2="189.70" stroke="#48671C" stroke-width="0.9"/>
<circle cx="226.40" cy="189.70" r="1.95" fill="#fff" stroke="#48671C" stroke-width="1.0"/>
<text x="240.4" y="193.00" font-size="4.9" font-weight="bold" fill="#222" stroke="#222" stroke-width="0.12" xml:space="preserve"><tspan font-style="italic" font-weight="normal" font-size="5.6">p</tspan><tspan font-size="3.3" font-style="italic" dy="3.2">lohr</tspan><tspan dy="-3.2"> = 590 MPa; </tspan><tspan font-style="italic" font-weight="normal" font-size="5.6">p</tspan><tspan font-size="3.3" font-style="italic" dy="3.2">oper</tspan><tspan dy="-3.2"> = 70 MPa</tspan></text>
<rect x="147.1" y="148.60" width="74.30000000000001" height="12.8" fill="#fff" stroke="#000" stroke-width="1.6"/>
<text x="184.25" y="158.90" text-anchor="middle" font-size="10.3" font-weight="bold" fill="#1a1a1a" stroke="#1a1a1a" stroke-width="0.3">LPS711/HNBR</text>
<clipPath id="clipf"><rect x="214.5" y="293.7" width="122.39999999999998" height="106.80000000000001"/></clipPath>
<g clip-path="url(#clipf)">
<path d="M223.68,396.23 L227.35,393.24 L231.64,390.04 L236.53,386.10 L242.90,380.01 L247.92,377.03 L252.93,374.89 L259.18,371.69 L266.64,368.28 L273.86,366.57 L281.45,364.86 L288.92,363.69 L294.92,362.30 L299.57,359.95 L303.85,356.22 L309.12,350.56 L315.72,342.88 L322.33,332.32 L327.96,315.14 L332.86,294.33 L333.47,290.60" stroke="#CD9418" stroke-width="0.9" fill="none"/>
<path d="M221.35,394.95 L227.84,391.43 L233.59,389.30 L239.35,388.55 L244.98,388.55 L249.26,387.06 L250.73,382.89 L251.95,377.13 L253.55,371.37 L255.01,365.72 L256.36,359.95 L257.83,359.95 L255.75,368.60 L254.28,374.25 L252.93,381.40 L251.34,388.55 L249.26,392.60 L243.63,393.56 L236.41,394.31 L229.31,395.70 L223.56,397.94 L220.50,398.05 Z" fill="#CD9418"/>
<path d="M256.73,360.49 L257.46,361.45 L260.64,350.56 L264.32,334.35 L268.60,317.81 L274.84,296.36 L276.31,290.60" stroke="#CD9418" stroke-width="0.9" fill="none"/>
<path d="M220.99,394.95 L223.31,393.56 L225.76,391.75 L228.09,389.30 L230.66,386.95 L233.35,384.28 L237.14,381.40 L241.43,377.88 L246.45,374.47 L252.32,371.26 L259.05,367.85 L266.15,365.18 L273.74,362.30 L281.09,359.21 L287.94,356.33 L294.55,351.95 L300.06,345.44 L306.30,337.12 L311.44,325.70 L316.58,308.63 L322.21,290.60" stroke="#48671C" stroke-width="0.9" fill="none"/>
<circle cx="223.68" cy="396.23" r="1.75" fill="#fff" stroke="#CD9418" stroke-width="1.0"/>
<circle cx="227.35" cy="393.24" r="1.75" fill="#fff" stroke="#CD9418" stroke-width="1.0"/>
<circle cx="231.64" cy="390.04" r="1.75" fill="#fff" stroke="#CD9418" stroke-width="1.0"/>
<circle cx="236.53" cy="386.10" r="1.75" fill="#fff" stroke="#CD9418" stroke-width="1.0"/>
<circle cx="242.90" cy="380.01" r="1.75" fill="#fff" stroke="#CD9418" stroke-width="1.0"/>
<circle cx="247.92" cy="377.03" r="1.75" fill="#fff" stroke="#CD9418" stroke-width="1.0"/>
<circle cx="252.93" cy="374.89" r="1.75" fill="#fff" stroke="#CD9418" stroke-width="1.0"/>
<circle cx="259.18" cy="371.69" r="1.75" fill="#fff" stroke="#CD9418" stroke-width="1.0"/>
<circle cx="266.64" cy="368.28" r="1.75" fill="#fff" stroke="#CD9418" stroke-width="1.0"/>
<circle cx="273.86" cy="366.57" r="1.75" fill="#fff" stroke="#CD9418" stroke-width="1.0"/>
<circle cx="281.45" cy="364.86" r="1.75" fill="#fff" stroke="#CD9418" stroke-width="1.0"/>
<circle cx="288.92" cy="363.69" r="1.75" fill="#fff" stroke="#CD9418" stroke-width="1.0"/>
<circle cx="294.92" cy="362.30" r="1.75" fill="#fff" stroke="#CD9418" stroke-width="1.0"/>
<circle cx="299.57" cy="359.95" r="1.75" fill="#fff" stroke="#CD9418" stroke-width="1.0"/>
<circle cx="303.85" cy="356.22" r="1.75" fill="#fff" stroke="#CD9418" stroke-width="1.0"/>
<circle cx="309.12" cy="350.56" r="1.75" fill="#fff" stroke="#CD9418" stroke-width="1.0"/>
<circle cx="315.72" cy="342.88" r="1.75" fill="#fff" stroke="#CD9418" stroke-width="1.0"/>
<circle cx="322.33" cy="332.32" r="1.75" fill="#fff" stroke="#CD9418" stroke-width="1.0"/>
<circle cx="327.96" cy="315.14" r="1.75" fill="#fff" stroke="#CD9418" stroke-width="1.0"/>
<circle cx="332.86" cy="294.33" r="1.75" fill="#fff" stroke="#CD9418" stroke-width="1.0"/>
<rect x="254.53" y="358.29" width="4.4" height="4.4" fill="#CD9418"/><path d="M255.43,359.19 L258.03,361.79 M258.03,359.19 L255.43,361.79" stroke="#eecb85" stroke-width="0.55"/>
<rect x="255.26" y="359.25" width="4.4" height="4.4" fill="#CD9418"/><path d="M256.16,360.15 L258.76,362.75 M258.76,360.15 L256.16,362.75" stroke="#eecb85" stroke-width="0.55"/>
<rect x="258.44" y="348.36" width="4.4" height="4.4" fill="#CD9418"/><path d="M259.34,349.26 L261.94,351.86 M261.94,349.26 L259.34,351.86" stroke="#eecb85" stroke-width="0.55"/>
<rect x="262.12" y="332.15" width="4.4" height="4.4" fill="#CD9418"/><path d="M263.02,333.05 L265.62,335.65 M265.62,333.05 L263.02,335.65" stroke="#eecb85" stroke-width="0.55"/>
<rect x="266.40" y="315.61" width="4.4" height="4.4" fill="#CD9418"/><path d="M267.30,316.51 L269.90,319.11 M269.90,316.51 L267.30,319.11" stroke="#eecb85" stroke-width="0.55"/>
<rect x="272.64" y="294.16" width="4.4" height="4.4" fill="#CD9418"/><path d="M273.54,295.06 L276.14,297.66 M276.14,295.06 L273.54,297.66" stroke="#eecb85" stroke-width="0.55"/>
<circle cx="220.99" cy="394.95" r="1.75" fill="#fff" stroke="#48671C" stroke-width="1.0"/>
<circle cx="223.31" cy="393.56" r="1.75" fill="#fff" stroke="#48671C" stroke-width="1.0"/>
<circle cx="225.76" cy="391.75" r="1.75" fill="#fff" stroke="#48671C" stroke-width="1.0"/>
<circle cx="228.09" cy="389.30" r="1.75" fill="#fff" stroke="#48671C" stroke-width="1.0"/>
<circle cx="230.66" cy="386.95" r="1.75" fill="#fff" stroke="#48671C" stroke-width="1.0"/>
<circle cx="233.35" cy="384.28" r="1.75" fill="#fff" stroke="#48671C" stroke-width="1.0"/>
<circle cx="237.14" cy="381.40" r="1.75" fill="#fff" stroke="#48671C" stroke-width="1.0"/>
<circle cx="241.43" cy="377.88" r="1.75" fill="#fff" stroke="#48671C" stroke-width="1.0"/>
<circle cx="246.45" cy="374.47" r="1.75" fill="#fff" stroke="#48671C" stroke-width="1.0"/>
<circle cx="252.32" cy="371.26" r="1.75" fill="#fff" stroke="#48671C" stroke-width="1.0"/>
<circle cx="259.05" cy="367.85" r="1.75" fill="#fff" stroke="#48671C" stroke-width="1.0"/>
<circle cx="266.15" cy="365.18" r="1.75" fill="#fff" stroke="#48671C" stroke-width="1.0"/>
<circle cx="273.74" cy="362.30" r="1.75" fill="#fff" stroke="#48671C" stroke-width="1.0"/>
<circle cx="281.09" cy="359.21" r="1.75" fill="#fff" stroke="#48671C" stroke-width="1.0"/>
<circle cx="287.94" cy="356.33" r="1.75" fill="#fff" stroke="#48671C" stroke-width="1.0"/>
<circle cx="294.55" cy="351.95" r="1.75" fill="#fff" stroke="#48671C" stroke-width="1.0"/>
<circle cx="300.06" cy="345.44" r="1.75" fill="#fff" stroke="#48671C" stroke-width="1.0"/>
<circle cx="306.30" cy="337.12" r="1.75" fill="#fff" stroke="#48671C" stroke-width="1.0"/>
<circle cx="311.44" cy="325.70" r="1.75" fill="#fff" stroke="#48671C" stroke-width="1.0"/>
<circle cx="316.58" cy="308.63" r="1.75" fill="#fff" stroke="#48671C" stroke-width="1.0"/>
</g>
<path d="M214.50,400.5 v-3.2 M214.50,293.7 v3.2 M214.5,400.50 h3.2 M336.9,400.50 h-3.2 M226.74,400.5 v-1.8 M226.74,293.7 v1.8 M214.5,389.83 h1.8 M336.9,389.83 h-1.8 M238.98,400.5 v-3.2 M238.98,293.7 v3.2 M214.5,379.16 h3.2 M336.9,379.16 h-3.2 M251.22,400.5 v-1.8 M251.22,293.7 v1.8 M214.5,368.49 h1.8 M336.9,368.49 h-1.8 M263.46,400.5 v-3.2 M263.46,293.7 v3.2 M214.5,357.82 h3.2 M336.9,357.82 h-3.2 M275.70,400.5 v-1.8 M275.70,293.7 v1.8 M214.5,347.15 h1.8 M336.9,347.15 h-1.8 M287.94,400.5 v-3.2 M287.94,293.7 v3.2 M214.5,336.48 h3.2 M336.9,336.48 h-3.2 M300.18,400.5 v-1.8 M300.18,293.7 v1.8 M214.5,325.81 h1.8 M336.9,325.81 h-1.8 M312.42,400.5 v-3.2 M312.42,293.7 v3.2 M214.5,315.14 h3.2 M336.9,315.14 h-3.2 M324.66,400.5 v-1.8 M324.66,293.7 v1.8 M214.5,304.47 h1.8 M336.9,304.47 h-1.8 M336.90,400.5 v-3.2 M336.90,293.7 v3.2 M214.5,293.80 h3.2 M336.9,293.80 h-3.2" stroke="#000" stroke-width="1.1" fill="none"/>
<rect x="214.5" y="293.7" width="122.39999999999998" height="106.80000000000001" fill="none" stroke="#000" stroke-width="1.4"/>
<text x="214.50" y="410.80" text-anchor="middle" font-size="8.5" fill="#1a1a1a" stroke="#1a1a1a" stroke-width="0.3">0</text>
<text x="238.98" y="410.80" text-anchor="middle" font-size="8.5" fill="#1a1a1a" stroke="#1a1a1a" stroke-width="0.3">2</text>
<text x="263.46" y="410.80" text-anchor="middle" font-size="8.5" fill="#1a1a1a" stroke="#1a1a1a" stroke-width="0.3">4</text>
<text x="287.94" y="410.80" text-anchor="middle" font-size="8.5" fill="#1a1a1a" stroke="#1a1a1a" stroke-width="0.3">6</text>
<text x="312.42" y="410.80" text-anchor="middle" font-size="8.5" fill="#1a1a1a" stroke="#1a1a1a" stroke-width="0.3">8</text>
<text x="336.90" y="410.80" text-anchor="middle" font-size="8.5" fill="#1a1a1a" stroke="#1a1a1a" stroke-width="0.3">10</text>
<text x="210.50" y="403.20" text-anchor="end" font-size="8.5" fill="#1a1a1a" stroke="#1a1a1a" stroke-width="0.3">0</text>
<text x="210.50" y="381.86" text-anchor="end" font-size="8.5" fill="#1a1a1a" stroke="#1a1a1a" stroke-width="0.3">2</text>
<text x="210.50" y="360.52" text-anchor="end" font-size="8.5" fill="#1a1a1a" stroke="#1a1a1a" stroke-width="0.3">4</text>
<text x="210.50" y="339.18" text-anchor="end" font-size="8.5" fill="#1a1a1a" stroke="#1a1a1a" stroke-width="0.3">6</text>
<text x="210.50" y="317.84" text-anchor="end" font-size="8.5" fill="#1a1a1a" stroke="#1a1a1a" stroke-width="0.3">8</text>
<text x="239.0" y="426.00" font-size="8.4" font-weight="bold" fill="#1a1a1a" stroke="#1a1a1a" stroke-width="0.3">Re(<tspan font-style="italic">Z</tspan>)/<tspan font-style="italic">t</tspan><tspan font-size="6" dy="2.2">sep</tspan><tspan dy="-2.2" dx="1" xml:space="preserve">  / kΩ/cm</tspan></text>
<text transform="translate(194.6,345.80) rotate(-90)" text-anchor="middle" font-size="8.1" font-weight="bold" fill="#1a1a1a" stroke="#1a1a1a" stroke-width="0.3">-Im(<tspan font-style="italic">Z</tspan>)/<tspan font-style="italic">t</tspan><tspan font-size="5.6" dy="1.7">sep</tspan><tspan dy="-1.7" xml:space="preserve">  / kΩ/cm</tspan></text>
<text x="340.8" y="291.30" font-size="8.8" font-weight="bold" fill="#1a1a1a" stroke="#1a1a1a" stroke-width="0.3">f)</text>
<line x1="214.5" x2="238.2" y1="300.20" y2="300.20" stroke="#CD9418" stroke-width="0.9"/>
<circle cx="226.40" cy="300.20" r="1.95" fill="#fff" stroke="#CD9418" stroke-width="1.0"/>
<text x="240.6" y="304.40" font-size="4.9" font-weight="bold" fill="#222" stroke="#222" stroke-width="0.12" xml:space="preserve"><tspan font-style="italic" font-weight="normal" font-size="5.6">p</tspan><tspan font-size="3.3" font-style="italic" dy="1.6">lohr</tspan><tspan dy="-1.6"> = 0 MPa ; </tspan><tspan font-style="italic" font-weight="normal" font-size="5.6">p</tspan><tspan font-size="3.3" font-style="italic" dy="1.6">oper</tspan><tspan dy="-1.6"> = 70 MPa</tspan></text>
<line x1="214.5" x2="238.2" y1="313.40" y2="313.40" stroke="#CD9418" stroke-width="0.9"/>
<rect x="224.20" y="311.20" width="4.4" height="4.4" fill="#CD9418"/><path d="M225.10,312.10 L227.70,314.70 M227.70,312.10 L225.10,314.70" stroke="#eecb85" stroke-width="0.55"/>
<text x="240.6" y="317.60" font-size="4.9" font-weight="bold" fill="#222" stroke="#222" stroke-width="0.12" xml:space="preserve"><tspan font-style="italic" font-weight="normal" font-size="5.6">p</tspan><tspan font-size="3.3" font-style="italic" dy="1.6">lohr</tspan><tspan dy="-1.6"> = 0 MPa ; </tspan><tspan font-style="italic" font-weight="normal" font-size="5.6">p</tspan><tspan font-size="3.3" font-style="italic" dy="1.6">oper</tspan><tspan dy="-1.6"> = 590 MPa</tspan></text>
<line x1="214.5" x2="238.2" y1="328.80" y2="328.80" stroke="#48671C" stroke-width="0.9"/>
<circle cx="226.40" cy="328.80" r="1.95" fill="#fff" stroke="#48671C" stroke-width="1.0"/>
<text x="240.6" y="333.00" font-size="4.9" font-weight="bold" fill="#222" stroke="#222" stroke-width="0.12" xml:space="preserve"><tspan font-style="italic" font-weight="normal" font-size="5.6">p</tspan><tspan font-size="3.3" font-style="italic" dy="1.6">lohr</tspan><tspan dy="-1.6"> = 590 MPa ; </tspan><tspan font-style="italic" font-weight="normal" font-size="5.6">p</tspan><tspan font-size="3.3" font-style="italic" dy="1.6">oper</tspan><tspan dy="-1.6"> = 70 MPa</tspan></text>
<rect x="152.0" y="290.00" width="63.69999999999999" height="12.8" fill="#fff" stroke="#000" stroke-width="1.6"/>
<text x="183.85" y="300.30" text-anchor="middle" font-size="10.3" font-weight="bold" fill="#1a1a1a" stroke="#1a1a1a" stroke-width="0.3">LSPS/HNBR</text>
</svg></body></html>
